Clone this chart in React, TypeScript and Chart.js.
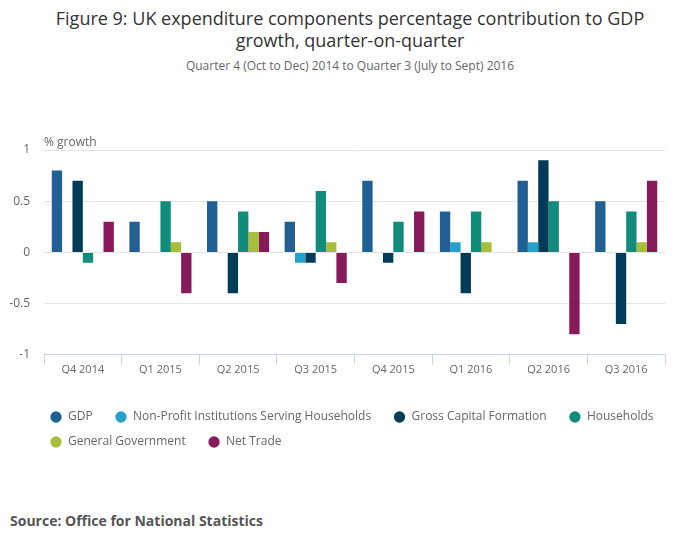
import { useEffect, useRef } from 'react';
import { Chart, registerables, Plugin } from 'chart.js';

Chart.register(...registerables);

const QUARTERS = ['Q4 2014', 'Q1 2015', 'Q2 2015', 'Q3 2015', 'Q4 2015', 'Q1 2016', 'Q2 2016', 'Q3 2016'];

const GDP = [0.8, 0.3, 0.5, 0.3, 0.7, 0.4, 0.7, 0.5];
const NPISH = [0, 0, 0, -0.1, 0, 0.1, 0.1, 0];
const GROSS_CAPITAL = [0.7, 0, -0.4, -0.1, -0.1, -0.4, 0.9, -0.7];
const HOUSEHOLDS = [-0.1, 0.5, 0.4, 0.6, 0.3, 0.4, 0.5, 0.4];
const GOVERNMENT = [0, 0.1, 0.2, 0.1, 0, 0.1, 0, 0.1];
const NET_TRADE = [0.3, -0.4, 0.2, -0.3, 0.4, 0, -0.8, 0.7];

const Y_TICKS = [1, 0.5, 0, -0.5, -1];

const FONT = '"Open Sans", sans-serif';

const SERIES = [
  { label: 'GDP', data: GDP, color: '#206095' },
  { label: 'Non-Profit Institutions Serving Households', data: NPISH, color: '#27a0cc' },
  { label: 'Gross Capital Formation', data: GROSS_CAPITAL, color: '#003c57' },
  { label: 'Households', data: HOUSEHOLDS, color: '#118c7b' },
  { label: 'General Government', data: GOVERNMENT, color: '#a8bd3a' },
  { label: 'Net Trade', data: NET_TRADE, color: '#871a5b' },
];

// "% growth" sits above the top-left of the plot
const unitLabel: Plugin<'bar'> = {
  id: 'unitLabel',
  afterDraw(chart) {
    const { ctx, chartArea } = chart;
    ctx.save();
    ctx.font = `12px ${FONT}`;
    ctx.fillStyle = '#666';
    ctx.textAlign = 'left';
    ctx.textBaseline = 'middle';
    ctx.fillText('% growth', chartArea.left, chartArea.top - 7);
    ctx.restore();
  },
};

// legend rows start further in than chart.js puts them
const legendIndent: Plugin<'bar'> = {
  id: 'legendIndent',
  afterLayout(chart) {
    if (chart.legend) chart.legend.left += 37;
  },
};

export default function App() {
  const canvasRef = useRef<HTMLCanvasElement>(null);
  const chartRef = useRef<Chart | null>(null);

  useEffect(() => {
    document.body.style.margin = '0';
    if (!canvasRef.current) return;
    if (chartRef.current) chartRef.current.destroy();

    chartRef.current = new Chart(canvasRef.current, {
      type: 'bar',
      data: {
        labels: QUARTERS,
        datasets: SERIES.map(s => ({
          label: s.label,
          data: s.data,
          backgroundColor: s.color,
          borderWidth: 0,
          categoryPercentage: 0.8,
          barPercentage: 1,
        })),
      },
      options: {
        animation: false,
        responsive: true,
        maintainAspectRatio: false,
        layout: { padding: { top: 50, right: 0, left: 0, bottom: 0 } },
        plugins: {
          legend: {
            position: 'bottom',
            align: 'start',
            title: { display: true, text: '', font: { size: 10 }, padding: { top: 12, bottom: 0 } },
            labels: {
              usePointStyle: true,
              pointStyle: 'circle',
              boxWidth: 12,
              boxHeight: 8,
              padding: 13,
              color: '#666',
              font: { family: FONT, size: 12 },
              generateLabels: (chart) =>
                Chart.defaults.plugins.legend.labels.generateLabels(chart).map(item => ({
                  ...item,
                  text: item.text + '   ',
                })),
            },
          },
          tooltip: { enabled: false },
        },
        scales: {
          x: {
            grid: {
              offset: true,
              drawOnChartArea: false,
              tickLength: 10,
              color: '#c6d3e8',
            },
            border: { color: '#c6d3e8' },
            ticks: { color: '#666', font: { family: FONT, size: 11 }, padding: -2 },
          },
          y: {
            min: -1,
            max: 1,
            afterFit: (scale) => { scale.width = 44; },
            afterBuildTicks: (scale) => { scale.ticks = Y_TICKS.map(v => ({ value: v })); },
            grid: { color: '#e3e3e3', drawTicks: false },
            border: { display: false },
            ticks: {
              color: '#666',
              font: { family: FONT, size: 12 },
              padding: 14,
              callback: (v) => String(v),
            },
          },
          // empty axis that only keeps space right of the plot
          yRight: {
            position: 'right',
            afterFit: (scale) => { scale.width = 35; },
            grid: { display: false },
            border: { display: false },
            ticks: { display: false },
          },
        },
      },
      plugins: [unitLabel, legendIndent],
    });

    return () => { chartRef.current?.destroy(); };
  }, []);

  return (
    <div style={{ position: 'relative', width: 700, height: 549, fontFamily: FONT, background: '#fff' }}>
      <div style={{ position: 'absolute', top: 7, left: 0, width: 700, textAlign: 'center', fontSize: 18, lineHeight: '22px', color: '#333' }}>
        Figure 9: UK expenditure components percentage contribution to GDP<br />growth, quarter-on-quarter
      </div>
      <div style={{ position: 'absolute', top: 57, left: 0, width: 700, textAlign: 'center', fontSize: 12, color: '#666' }}>
        Quarter 4 (Oct to Dec) 2014 to Quarter 3 (July to Sept) 2016
      </div>
      <div style={{ position: 'absolute', top: 100, left: 0, width: 700, height: 358 }}>
        <canvas ref={canvasRef} />
      </div>
      <div style={{ position: 'absolute', top: 511, left: 10, fontSize: 14, fontWeight: 700, color: '#555' }}>
        Source: Office for National Statistics
      </div>
    </div>
  );
}
